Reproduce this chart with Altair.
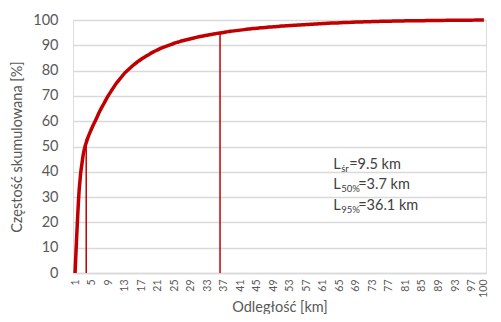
import altair as alt
import pandas as pd

# Cumulative frequency [%] for distances 1..100 km
distance = list(range(1, 101))
cumulative = [
    0, 33, 47, 53, 57, 60.5, 64, 67, 70, 72.5,
    75, 77, 79, 80.5, 82, 83.3, 84.5, 85.5, 86.5, 87.4,
    88.2, 89, 89.6, 90.2, 90.8, 91.3, 91.8, 92.2, 92.6, 93,
    93.4, 93.7, 94, 94.3, 94.6, 94.9, 95.1, 95.4, 95.6, 95.8,
    96, 96.2, 96.4, 96.6, 96.7, 96.9, 97.0, 97.2, 97.3, 97.4,
    97.6, 97.7, 97.8, 97.9, 98.0, 98.1, 98.2, 98.3, 98.4, 98.5,
    98.6, 98.7, 98.8, 98.8, 98.9, 99.0, 99.0, 99.1, 99.2, 99.2,
    99.3, 99.3, 99.4, 99.4, 99.5, 99.5, 99.5, 99.6, 99.6, 99.6,
    99.7, 99.7, 99.7, 99.7, 99.7, 99.8, 99.8, 99.8, 99.8, 99.8,
    99.9, 99.9, 99.9, 99.9, 99.9, 99.9, 99.9, 100, 100, 100,
]

# Reference lines (L50%, L95%)
ref_x = [3.7, 36.1]
ref_top = [53, 94.9]

# Annotation texts
ann_sub = ["śr", "50%", "95%"]
ann_rest = ["=9.5 km", "=3.7 km", "=36.1 km"]
ann_y = [42.7, 34.8, 26.5]
ann_x = 63.5

x_ticks = list(range(1, 98, 4)) + [100]
y_ticks = list(range(0, 101, 10))

RED = "#C00000"
FONT = "Lato"
GRAY = "#595959"

df = pd.DataFrame({"x": distance, "y": cumulative})
df_ref = pd.DataFrame({"x": ref_x, "y": [0, 0], "y1": ref_top})

xscale = alt.Scale(domain=[0.5, 100.5], nice=False, zero=False)
yscale = alt.Scale(domain=[0, 100], nice=False)

xaxis = alt.Axis(values=x_ticks, title="Odległość [km]", labelAngle=270,
                 labelAlign="right", labelBaseline="middle",
                 labelFontSize=10.5, labelColor=GRAY, labelFont=FONT,
                 ticks=False, grid=False, labelPadding=6,
                 domainColor="#D9D9D9", domainWidth=1.5,
                 titleFont=FONT, titleFontSize=14.5, titleFontWeight="normal",
                 titleColor=GRAY, titleY=27, titleBaseline="top", labelOverlap=False,
                 labelFlush=False)
yaxis = alt.Axis(values=y_ticks, title="Częstość skumulowana [%]",
                 labelFontSize=14.5, labelColor=GRAY, labelFont=FONT,
                 ticks=False, domain=False, gridColor="#D9D9D9", gridWidth=1.5,
                 labelPadding=15, titleFont=FONT, titleFontSize=14.5,
                 labelOverlap=False,
                 titleFontWeight="normal", titleColor=GRAY, titlePadding=8)

X = alt.X("x:Q", scale=xscale, axis=xaxis)
Y = alt.Y("y:Q", scale=yscale, axis=yaxis)

line = alt.Chart(df).mark_line(color=RED, strokeWidth=3.5, interpolate="monotone").encode(
    x=X, y=Y
)

rules = alt.Chart(df_ref).mark_rule(color=RED, strokeWidth=1.5).encode(
    x=X, y=Y, y2="y1:Q"
)

layers = [rules, line]
for sub, rest, yy in zip(ann_sub, ann_rest, ann_y):
    d = pd.DataFrame({"x": [ann_x], "y": [yy], "L": ["L"], "sub": [sub], "rest": [rest]})
    base = alt.Chart(d)
    sub_w = 8 if len(sub) == 2 else 17
    layers.append(base.mark_text(align="left", baseline="middle", font=FONT, fontSize=14.5,
                                 color="#404040").encode(x=X, y=Y, text="L:N"))
    layers.append(base.mark_text(align="left", baseline="middle", font=FONT, fontSize=9.5,
                                 color="#404040", dx=8, dy=4).encode(x=X, y=Y, text="sub:N"))
    layers.append(base.mark_text(align="left", baseline="middle", font=FONT, fontSize=14.5,
                                 color="#404040", dx=8 + sub_w).encode(x=X, y=Y, text="rest:N"))

chart = alt.layer(*layers).properties(
    width=413, height=253,
    padding={"left": 65, "top": 12, "right": 7, "bottom": 41},
    autosize=alt.AutoSizeParams(type="none"),
).configure_view(stroke=None).configure(background="white")

chart.save("out.html", embed_options={"renderer": "svg", "actions": False})
